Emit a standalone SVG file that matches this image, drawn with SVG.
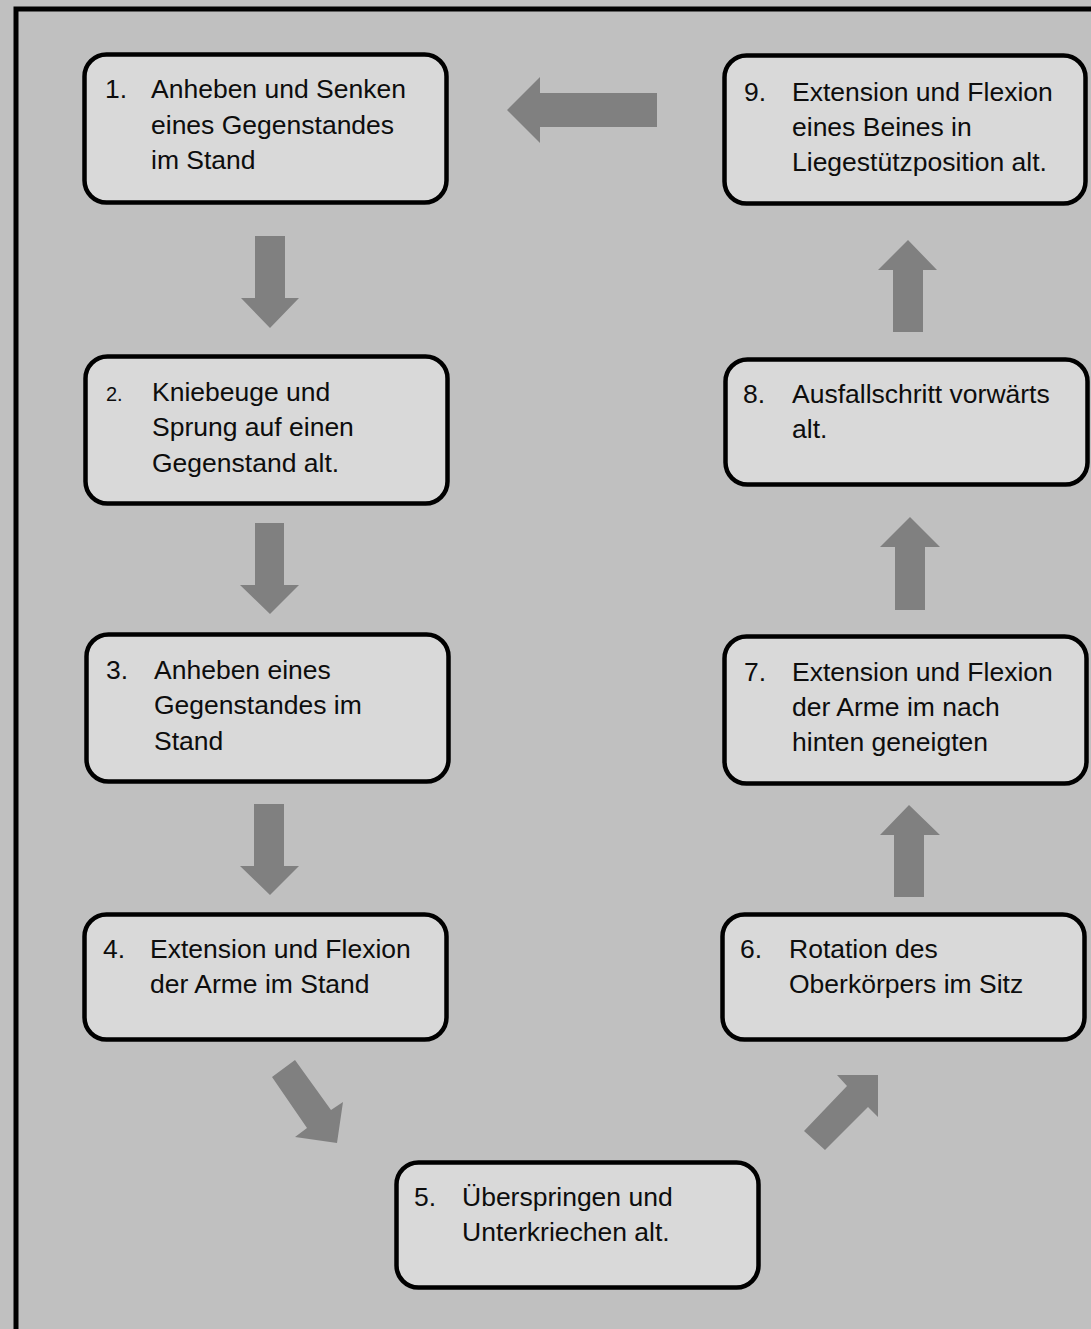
<svg xmlns="http://www.w3.org/2000/svg" width="1091" height="1329" viewBox="0 0 1091 1329">
<style>
.box{fill:#d9d9d9;stroke:#000;stroke-width:4.5}
.t{font-family:"Liberation Sans",Arial,sans-serif;font-size:26.5px;fill:#0d0d0d}
.arr{fill:#808080}
</style>
<rect x="0" y="0" width="1091" height="1329" fill="#c0c0c0"/>
<rect x="16" y="9" width="1100" height="1360" fill="none" stroke="#000" stroke-width="5"/>
<g id="connectors">
<polygon class="arr" points="657,93 540,93 540,77 507,110 540,143 540,127 657,127"/>
<polygon class="arr" points="255,236 285,236 285,298 299,298 270,328 241,298 255,298"/>
<polygon class="arr" points="255,523 284,523 284,585 299,585 270,614 240,585 255,585"/>
<polygon class="arr" points="254,804 284,804 284,866 299,866 270,895 240,866 254,866"/>
<polygon class="arr" points="295,1060 331,1110 343,1102 337,1143 295,1137 307,1128 272,1077"/>
<polygon class="arr" points="804,1131 847,1086 837,1075 878,1075 878,1117 868,1107 825,1150"/>
<polygon class="arr" points="894,897 924,897 924,835 940,835 909,805 880,835 894,835"/>
<polygon class="arr" points="895,610 925,610 925,547 940,547 910,517 880,547 895,547"/>
<polygon class="arr" points="893,332 923,332 923,270 937,270 908,240 878,270 893,270"/>
</g>
<g id="n1"><rect class="box" x="84.5" y="54.5" width="362" height="148" rx="22"/>
<text class="t" x="105" y="98">1.</text>
<text class="t" x="151" y="98">Anheben und Senken</text>
<text class="t" x="151" y="134">eines Gegenstandes</text>
<text class="t" x="151" y="169">im Stand</text></g>
<g id="n2"><rect class="box" x="85.5" y="356.5" width="362" height="147" rx="22"/>
<text class="t" x="106" y="401" style="font-size:20px">2.</text>
<text class="t" x="152" y="401">Kniebeuge und</text>
<text class="t" x="152" y="436">Sprung auf einen</text>
<text class="t" x="152" y="472">Gegenstand alt.</text></g>
<g id="n3"><rect class="box" x="86.5" y="634.5" width="362" height="147" rx="22"/>
<text class="t" x="106" y="679">3.</text>
<text class="t" x="154" y="679">Anheben eines</text>
<text class="t" x="154" y="714">Gegenstandes im</text>
<text class="t" x="154" y="750">Stand</text></g>
<g id="n4"><rect class="box" x="84.5" y="914.5" width="362" height="125" rx="22"/>
<text class="t" x="103" y="958">4.</text>
<text class="t" x="150" y="958">Extension und Flexion</text>
<text class="t" x="150" y="993">der Arme im Stand</text></g>
<g id="n5"><rect class="box" x="396.5" y="1162.5" width="362" height="125" rx="22"/>
<text class="t" x="414" y="1206">5.</text>
<text class="t" x="462" y="1206">Überspringen und</text>
<text class="t" x="462" y="1241">Unterkriechen alt.</text></g>
<g id="n6"><rect class="box" x="722.5" y="914.5" width="362" height="125" rx="22"/>
<text class="t" x="740" y="958">6.</text>
<text class="t" x="789" y="958">Rotation des</text>
<text class="t" x="789" y="993">Oberkörpers im Sitz</text></g>
<g id="n7"><rect class="box" x="724.5" y="636.5" width="362" height="147" rx="22"/>
<text class="t" x="744" y="681">7.</text>
<text class="t" x="792" y="681">Extension und Flexion</text>
<text class="t" x="792" y="716">der Arme im nach</text>
<text class="t" x="792" y="751">hinten geneigten</text></g>
<g id="n8"><rect class="box" x="725.5" y="359.5" width="362" height="125" rx="22"/>
<text class="t" x="743" y="403">8.</text>
<text class="t" x="792" y="403">Ausfallschritt vorwärts</text>
<text class="t" x="792" y="438">alt.</text></g>
<g id="n9"><rect class="box" x="724.5" y="55.5" width="361" height="148" rx="22"/>
<text class="t" x="744" y="101">9.</text>
<text class="t" x="792" y="101">Extension und Flexion</text>
<text class="t" x="792" y="136">eines Beines in</text>
<text class="t" x="792" y="171">Liegestützposition alt.</text></g>
</svg>
